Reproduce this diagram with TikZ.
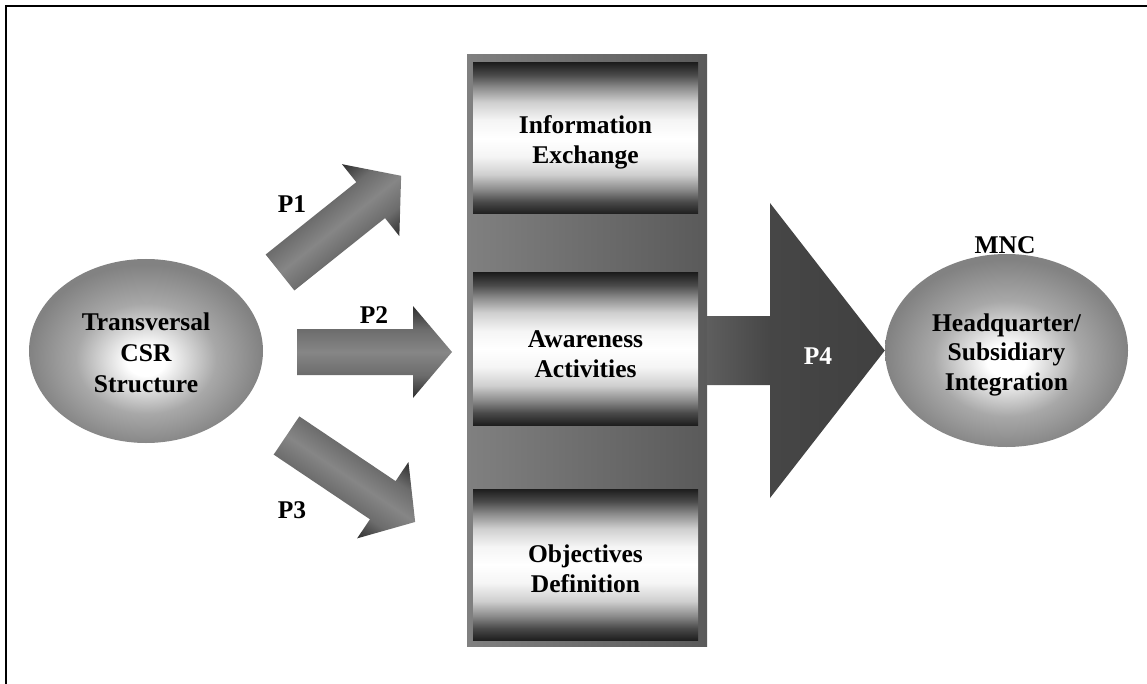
\documentclass[tikz,border=0pt]{standalone}
\usepackage{fontspec}
\setmainfont{Liberation Serif}
\usetikzlibrary{shapes.geometric}
\definecolor{arrEdge}{HTML}{2E2E2E}
\definecolor{arrSide}{HTML}{6C6C6C}
\definecolor{arrMid}{HTML}{868686}
\definecolor{bxD}{HTML}{1E1E1E}
\definecolor{bxA}{HTML}{4A4A4A}
\definecolor{bxG}{HTML}{8A8A8A}
\definecolor{bxM}{HTML}{CFCFCF}
\definecolor{bxL}{HTML}{F5F5F5}
\definecolor{ellMid}{HTML}{A8A8A8}
\definecolor{ellOut}{HTML}{828282}
\definecolor{barL}{HTML}{808080}
\definecolor{barR}{HTML}{5A5A5A}
\definecolor{pfL}{HTML}{5E5E5E}
\definecolor{pfM}{HTML}{464646}
\definecolor{pfR}{HTML}{404040}
\pgfdeclareverticalshading{arrshade}{100bp}{color(0bp)=(arrEdge); color(25bp)=(arrEdge); color(37.5bp)=(arrSide); color(50bp)=(arrMid); color(62.5bp)=(arrSide); color(75bp)=(arrEdge); color(100bp)=(arrEdge)}
\pgfdeclareverticalshading{boxshade}{100bp}{color(0bp)=(bxD); color(25bp)=(bxD); color(29bp)=(bxA); color(33bp)=(bxG); color(38bp)=(bxM); color(44bp)=(bxL); color(50bp)=(white); color(56bp)=(bxL); color(62bp)=(bxM); color(67bp)=(bxG); color(71bp)=(bxA); color(75bp)=(bxD); color(100bp)=(bxD)}
\pgfdeclareradialshading{ellshade}{\pgfpoint{0bp}{-3bp}}{color(0bp)=(white); color(4bp)=(white); color(15bp)=(ellMid); color(25bp)=(ellOut); color(50bp)=(ellOut)}
\pgfdeclarehorizontalshading{pfourshade}{100bp}{color(0bp)=(pfL); color(25bp)=(pfL); color(43bp)=(pfM); color(75bp)=(pfR); color(100bp)=(pfR)}
\tikzset{
  lbl/.style={font=\fontsize{25.5}{30}\selectfont\bfseries, align=center, inner sep=0pt},
  ell/.style={ellipse, shading=ellshade, inner sep=0pt},
  box/.style={rectangle, shading=boxshade, minimum width=225pt, minimum height=151pt, inner sep=0pt},
  blockarr/.style={shading=arrshade},
}
\begin{document}
\begin{tikzpicture}[x=1pt,y=-1pt]
\useasboundingbox (0,0) rectangle (1147,684);
% frame
\draw[line width=2pt] (6,690) -- (6,5.8) -- (1150,5.8);
% shapes
\node[ell, minimum width=234pt, minimum height=184pt] (csr) at (146,351) {};
\node[rectangle, left color=barL, right color=barR, minimum width=240pt, minimum height=591pt, inner sep=0pt] (bar) at (587,350.5) {};
\node[box] (info) at (585.5,138.3) {};
\node[box, minimum height=152pt] (aware) at (585.5,349) {};
\node[box] (obj) at (585.5,564.8) {};
\node[ell, minimum width=243pt, minimum height=193pt] (hq) at (1006.5,350.5) {};
% texts
\node[lbl, font=\fontsize{25.5}{31}\selectfont\bfseries] (csrtxt) at ([yshift=-2pt]csr.center) {Transversal\\CSR\\Structure};
\node[lbl] (infotxt) at ([yshift=-4pt]info.center) {Information\\Exchange};
\node[lbl] (awaretxt) at ([yshift=-5pt]aware.center) {Awareness\\Activities};
\node[lbl] (objtxt) at ([yshift=-4pt]obj.center) {Objectives\\Definition};
\node[lbl, font=\fontsize{25.5}{29.5}\selectfont\bfseries] (hqtxt) at ([yshift=-4pt]hq.center) {Headquarter/\\Subsidiary\\Integration};
\node[lbl] (mnc) at (1005,245) {MNC};
% block arrows
\coordinate (p1t) at (280,272.5);
\coordinate (p2t) at (297,352);
\coordinate (p3t) at (286.5,435.5);
\begin{scope}[transform canvas={shift={(p1t)}, rotate=38.6}]
  \shade[blockarr] (0,-23) -- (116,-23) -- (116,-46) -- (155,0) -- (116,46) -- (116,23) -- (0,23) -- cycle;
\end{scope}
\begin{scope}[shift={(p2t)}]
  \shade[blockarr] (0,-23) -- (116,-23) -- (116,-46) -- (155,0) -- (116,46) -- (116,23) -- (0,23) -- cycle;
\end{scope}
\begin{scope}[transform canvas={shift={(p3t)}, rotate=-33.9}]
  \shade[blockarr] (0,-23) -- (116,-23) -- (116,-46) -- (155,0) -- (116,46) -- (116,23) -- (0,23) -- cycle;
\end{scope}
\shade[shading=pfourshade] (bar.east |- 0,316) -- (770,316) -- (770,203) -- (hq.west |- 0,350.5) -- (770,498) -- (770,385) -- (bar.east |- 0,385) -- cycle;
% labels
\node[lbl] (p1lab) at (292,204) {P1};
\node[lbl] (p2lab) at (374,315) {P2};
\node[lbl] (p3lab) at (292,510) {P3};
\node[lbl, text=white] (p4lab) at (818,356) {P4};
\end{tikzpicture}
\end{document}
